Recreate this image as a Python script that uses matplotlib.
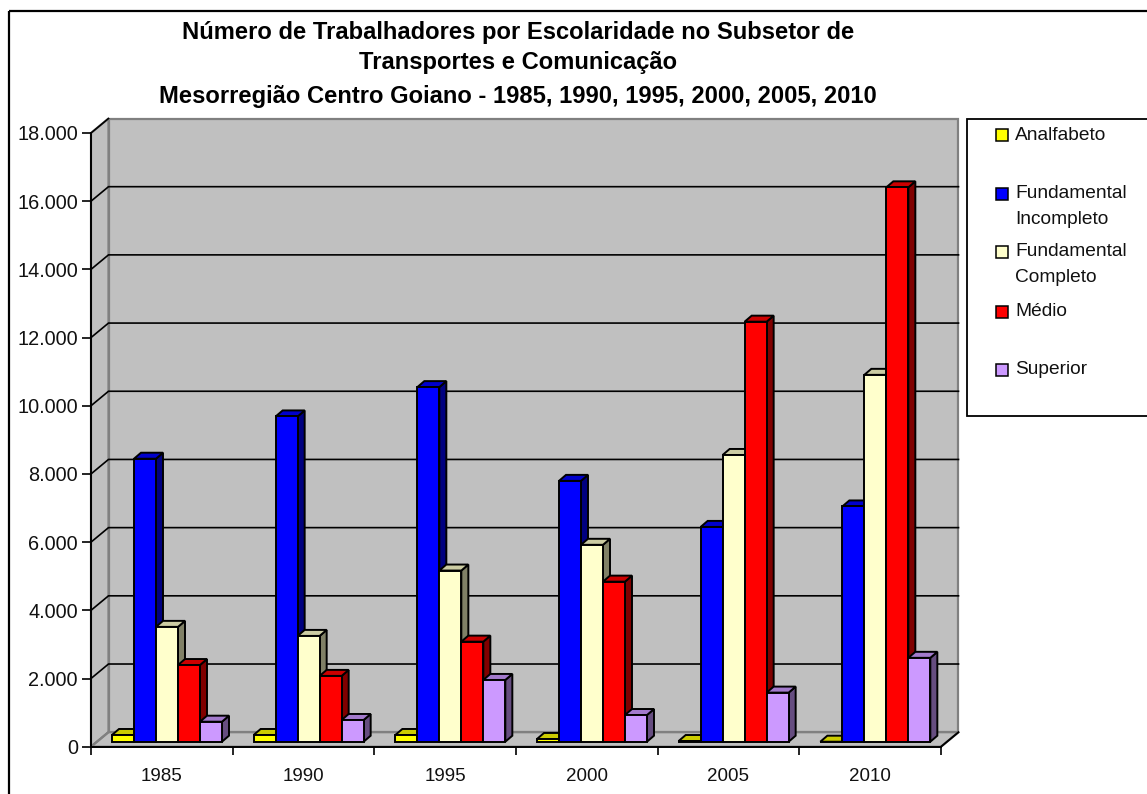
"""
Trabalhadores por escolaridade, Centro Goiano: old Excel style 3D column chart.
"""
import matplotlib
matplotlib.use('Agg')
import matplotlib.pyplot as plt
from matplotlib.patches import Polygon, Rectangle
import numpy as np

plt.rcParams['font.family'] = ['Liberation Sans', 'DejaVu Sans']

years = ['1985', '1990', '1995', '2000', '2005', '2010']
analfabeto = [197, 197, 197, 80, 20, 0]
fund_incompleto = [8300, 9540, 10400, 7650, 6300, 6900]
fund_completo = [3368, 3103, 5020, 5775, 8410, 10760]
medio = [2249, 1930, 2935, 4695, 12320, 16260]
superior = [587, 637, 1811, 783, 1440, 2460]

series = [analfabeto, fund_incompleto, fund_completo, medio, superior]
labels = ['Analfabeto', 'Fundamental\nIncompleto', 'Fundamental\nCompleto', 'Médio', 'Superior']
colors = ['#FFFF00', '#0000FF', '#FFFFCC', '#FF0000', '#CC99FF']
y_ticks = [0, 2000, 4000, 6000, 8000, 10000, 12000, 14000, 16000, 18000]
title_lines = ['Número de Trabalhadores por Escolaridade no Subsetor de',
               'Transportes e Comunicação',
               'Mesorregião Centro Goiano - 1985, 1990, 1995, 2000, 2005, 2010']

W, H = 1147, 794
fig = plt.figure(figsize=(W / 100, H / 100), dpi=100)

# overlay in pixels for the frame, title and legend
over = fig.add_axes([0, 0, 1, 1], zorder=5)
over.set_xlim(0, W)
over.set_ylim(H, 0)
over.axis('off')

# main axes is the front plane of the 3D box
left, right, top, bottom = 91, 941, 133, 746.7
ax = fig.add_axes([left / W, (H - bottom) / H, (right - left) / W, (bottom - top) / H])
ax.set_xlim(0, len(years))
ax.set_ylim(0, 18000)
ax.patch.set_visible(False)

px_x = len(years) / (right - left)
px_y = 18000 / (bottom - top)
depth_x, depth_y = 17.5 * px_x, 14.5 * px_y
n = len(years)
wall = '#C0C0C0'
gray = '#808080'

# walls and floor
ax.add_patch(Polygon([(depth_x, depth_y), (n + depth_x, depth_y), (n + depth_x, 18000 + depth_y),
                      (depth_x, 18000 + depth_y)], fc=wall, ec=gray, lw=1.6, clip_on=False, zorder=1))
ax.add_patch(Polygon([(0, 0), (depth_x, depth_y), (depth_x, 18000 + depth_y), (0, 18000)],
                     fc=wall, ec=gray, lw=1.6, clip_on=False, zorder=1))
ax.add_patch(Polygon([(0, 0), (n, 0), (n + depth_x, depth_y), (depth_x, depth_y)],
                     fc=wall, ec=gray, lw=1.6, clip_on=False, zorder=1))
for v in y_ticks[1:-1]:
    ax.plot([0, depth_x, n + depth_x], [v, v + depth_y, v + depth_y], color='black', lw=1.2,
            clip_on=False, zorder=2, solid_joinstyle='miter')
ax.plot([0, depth_x], [18000, 18000 + depth_y], color='black', lw=1.2, clip_on=False, zorder=2)
ax.plot([0, depth_x], [0, depth_y], color=gray, lw=1.4, clip_on=False, zorder=2)
ax.plot([n, n + depth_x], [0, depth_y], color='black', lw=1.4, clip_on=False, zorder=2)

# bars, left to right so each one paints over the side of the previous
bar_w = 22 * px_x
bar_dx, bar_dy = 7 * px_x, 6 * px_y
start = 21 * px_x
floor_v = 5 * px_y
zo = 3
for i in range(n):
    for j, vals in enumerate(series):
        x0 = i + start + j * bar_w
        v1 = floor_v + vals[i]
        rgb = np.array(matplotlib.colors.to_rgb(colors[j]))
        ax.add_patch(Polygon([(x0 + bar_w, floor_v), (x0 + bar_w + bar_dx, floor_v + bar_dy),
                              (x0 + bar_w + bar_dx, v1 + bar_dy), (x0 + bar_w, v1)],
                             fc=rgb * 0.5, ec='black', lw=1.4, zorder=zo, clip_on=False))
        ax.add_patch(Polygon([(x0, v1), (x0 + bar_w, v1), (x0 + bar_w + bar_dx, v1 + bar_dy),
                              (x0 + bar_dx, v1 + bar_dy)],
                             fc=rgb * 0.8, ec='black', lw=1.4, zorder=zo, clip_on=False))
        ax.bar(x0, vals[i], bar_w, bottom=floor_v, align='edge', color=colors[j],
               edgecolor='black', lw=1.4, zorder=zo, clip_on=False)
        zo += 1

for side in ['top', 'right']:
    ax.spines[side].set_visible(False)
for side in ['left', 'bottom']:
    ax.spines[side].set_linewidth(1.4)
    ax.spines[side].set_zorder(2.5)

ax.set_yticks(y_ticks)
ax.set_yticklabels([f'{v:,}'.replace(',', '.') for v in y_ticks], fontsize=14.3, color='#111111')
ax.set_xticks(range(n + 1))
ax.set_xticklabels([])
ax.set_xticks(np.arange(n) + 0.5, labels=years, minor=True, fontsize=13.5, color='#111111')
ax.tick_params(axis='y', length=6.5, width=1.2, pad=3)
ax.tick_params(axis='x', which='major', length=6, width=1.2)
ax.tick_params(axis='x', which='minor', length=0, pad=15)

# outer frame
over.add_patch(Rectangle((9, 11), W + 20, H + 20, fc='none', ec='black', lw=1.6, clip_on=True))

for line, y in zip(title_lines, [33, 62, 96]):
    over.text(518, y, line, ha='center', va='center', fontsize=17.1, fontweight='bold', color='black')

# legend box
over.add_patch(Rectangle((967, 119), W, 297, fc='white', ec='black', lw=1.3, clip_on=True))
legend_y = [135, 194, 252, 312, 370]
for label, color, y in zip(labels, colors, legend_y):
    over.add_patch(Rectangle((996, y - 6), 11.5, 11.5, fc=color, ec='black', lw=1.1))
    for k, part in enumerate(label.split('\n')):
        over.text(1015, y + 25.5 * k, part, ha='left', va='center', fontsize=13.8, color='#111111')

fig.savefig('out.png', dpi=100)
